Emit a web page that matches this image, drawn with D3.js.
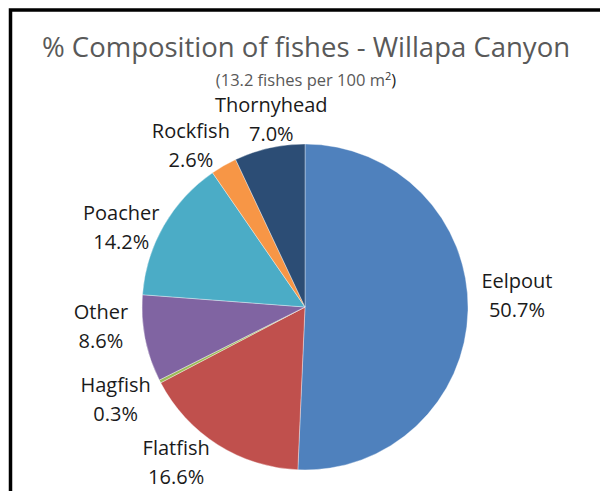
<!DOCTYPE html>
<html>
<head>
<meta charset="utf-8">
<script src="https://cdn.jsdelivr.net/npm/d3@7"></script>
<style>
  html, body { margin: 0; padding: 0; background: #fff; }
  svg { display: block; }
  .title { font-family: "Open Sans", sans-serif; font-weight: 400; fill: #595959; }
  .sub { font-family: "Open Sans", sans-serif; fill: #595959; }
  .lbl { font-family: "Open Sans", sans-serif; font-size: 20px; fill: #1a1a1a; }
</style>
</head>
<body>
<svg id="chart" width="600" height="491"></svg>
<script>
// data
var species = ["Eelpout", "Flatfish", "Hagfish", "Other", "Poacher", "Rockfish", "Thornyhead"];
var percents = [50.7, 16.6, 0.3, 8.6, 14.2, 2.6, 7.0];
var sliceColors = ["#4F81BD", "#C0504D", "#9BBB59", "#8064A2", "#4BACC6", "#F79646", "#2C4D75"];
var titleText = "% Composition of fishes - Willapa Canyon";
var subText = "(13.2 fishes per 100 m";

// layout
var CX = 305, CY = 307, R = 163, LABEL_R = 205;
// small hand offsets so the labels sit where the "best fit" put them
var labelNudge = {
  Eelpout: [7, -17], Flatfish: [-19, -18], Hagfish: [-7, -2], Other: [-3, -21],
  Poacher: [-6, 22], Rockfish: [-12, 16], Thornyhead: [11, 12]
};

var svg = d3.select("#chart");

// frame
svg.append("rect")
  .attr("x", 10.5).attr("y", 10)
  .attr("width", 700).attr("height", 700)
  .attr("fill", "none")
  .attr("stroke", "#000")
  .attr("stroke-width", 3.5);

// title
svg.append("text")
  .attr("class", "title")
  .attr("x", 306).attr("y", 57)
  .attr("text-anchor", "middle")
  .style("font-size", "27.5px")
  .text(titleText);

var sub = svg.append("text")
  .attr("class", "sub")
  .attr("x", 306).attr("y", 86)
  .attr("text-anchor", "middle")
  .style("font-size", "16.5px");
sub.append("tspan").text(subText);
sub.append("tspan").attr("dy", -6).style("font-size", "11px").style("fill", "#333").text("2");
sub.append("tspan").attr("dy", 6).style("fill", "#222").text(")");

// pie
var rows = species.map(function(d, i) { return { name: d, value: percents[i], color: sliceColors[i] }; });

var pie = d3.pie().value(function(d) { return d.value; }).sort(null);
var arc = d3.arc().innerRadius(0).outerRadius(R);
var labelArc = d3.arc().innerRadius(LABEL_R).outerRadius(LABEL_R);

var g = svg.append("g").attr("transform", "translate(" + CX + "," + CY + ")");

var arcs = pie(rows);

g.selectAll("path")
  .data(arcs)
  .enter()
  .append("path")
  .attr("d", arc)
  .attr("fill", function(d) { return d.data.color; })
  .attr("stroke", "#fff")
  .attr("stroke-width", 0.6)
  .attr("stroke-opacity", 0.6);

// labels
var lbl = g.selectAll("text.lbl")
  .data(arcs)
  .enter()
  .append("text")
  .attr("class", "lbl")
  .attr("text-anchor", "middle")
  .attr("transform", function(d) {
    var c = labelArc.centroid(d);
    var n = labelNudge[d.data.name] || [0, 0];
    return "translate(" + (c[0] + n[0]) + "," + (c[1] + n[1]) + ")";
  });

lbl.append("tspan")
  .attr("x", 0).attr("y", -7)
  .text(function(d) { return d.data.name; });

lbl.append("tspan")
  .attr("x", 0).attr("y", 22)
  .text(function(d) { return d3.format(".1f")(d.data.value) + "%"; });
</script>
</body>
</html>
